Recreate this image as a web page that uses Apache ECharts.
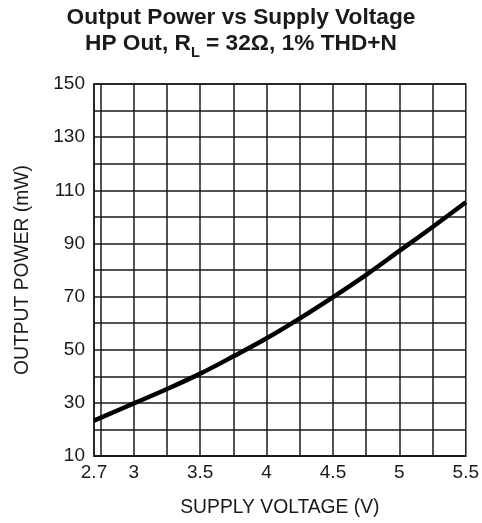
<!DOCTYPE html>
<html>
<head>
<meta charset="utf-8">
<script src="https://cdn.jsdelivr.net/npm/echarts@6/dist/echarts.min.js"></script>
<style>
html,body{margin:0;padding:0;background:#fff;}
#chart{width:482px;height:523px;}
</style>
</head>
<body>
<div id="chart"></div>
<script>
var supplyVoltage = [2.7, 3.0, 3.25, 3.5, 3.75, 4.0, 4.25, 4.5, 4.75, 5.0, 5.25, 5.5];
var outputPower   = [23.3, 29.8, 35.2, 41.0, 47.5, 54.3, 61.8, 69.8, 78.2, 87.2, 96.2, 105.5];
var xTickLabels = [2.7, 3, 3.5, 4, 4.5, 5, 5.5];
var xGridValues = [2.75, 3, 3.25, 3.5, 3.75, 4, 4.25, 4.5, 4.75, 5, 5.25];
var yTickLabels = [10, 30, 50, 70, 90, 110, 130, 150];

var font = '"Liberation Sans", Arial, Helvetica, sans-serif';
var chart = echarts.init(document.getElementById('chart'), null, {renderer: 'canvas'});
var gridColor = '#1a1a1a';

chart.setOption({
  animation: false,
  backgroundColor: '#fff',
  title: [
    {
      text: 'Output Power vs Supply Voltage',
      left: 'center', top: 6, padding: 0,
      textStyle: {fontFamily: font, fontWeight: 'bold', fontSize: 22.7, lineHeight: 23, color: '#1a1a1a'}
    },
    {
      text: 'HP Out, R{s|L} = 32Ω, 1% THD+N',
      left: 'center', top: 28, padding: 0,
      textStyle: {
        fontFamily: font, fontWeight: 'bold', fontSize: 22.7, lineHeight: 32, color: '#1a1a1a',
        rich: {
          s: {fontFamily: font, fontWeight: 'bold', fontSize: 14.5, color: '#1a1a1a', verticalAlign: 'bottom'}
        }
      }
    }
  ],
  grid: {
    left: 94, right: 15, top: 84, bottom: 67,
    show: true, borderColor: gridColor, borderWidth: 1.5, backgroundColor: 'transparent'
  },
  xAxis: {
    type: 'value', min: 2.7, max: 5.5,
    name: 'SUPPLY VOLTAGE (V)', nameLocation: 'middle', nameGap: 42,
    nameTextStyle: {fontFamily: font, fontSize: 19.3, color: '#1a1a1a'},
    axisLine: {show: true, lineStyle: {color: gridColor, width: 1.5}},
    axisTick: {show: false, customValues: xGridValues},
    axisLabel: {customValues: xTickLabels, fontFamily: font, fontSize: 19, color: '#1a1a1a', margin: 7,
      formatter: function (v) { return String(Math.round(v * 10) / 10); }},
    splitLine: {show: true, lineStyle: {color: gridColor, width: 1.5}}
  },
  yAxis: {
    type: 'value', min: 10, max: 150, interval: 10,
    name: 'OUTPUT POWER (mW)', nameLocation: 'middle', nameGap: 62,
    nameTextStyle: {fontFamily: font, fontSize: 19.3, color: '#1a1a1a'},
    axisLine: {show: true, lineStyle: {color: gridColor, width: 1.5}},
    axisTick: {show: false},
    axisLabel: {customValues: yTickLabels, fontFamily: font, fontSize: 19, color: '#1a1a1a', margin: 9},
    splitLine: {show: true, lineStyle: {color: gridColor, width: 1.5}}
  },
  series: [{
    type: 'line',
    data: supplyVoltage.map(function (v, i) { return [v, outputPower[i]]; }),
    smooth: 0.4,
    showSymbol: false,
    lineStyle: {color: '#000', width: 4.5},
    itemStyle: {color: '#000'}
  }]
});
</script>
</body>
</html>
